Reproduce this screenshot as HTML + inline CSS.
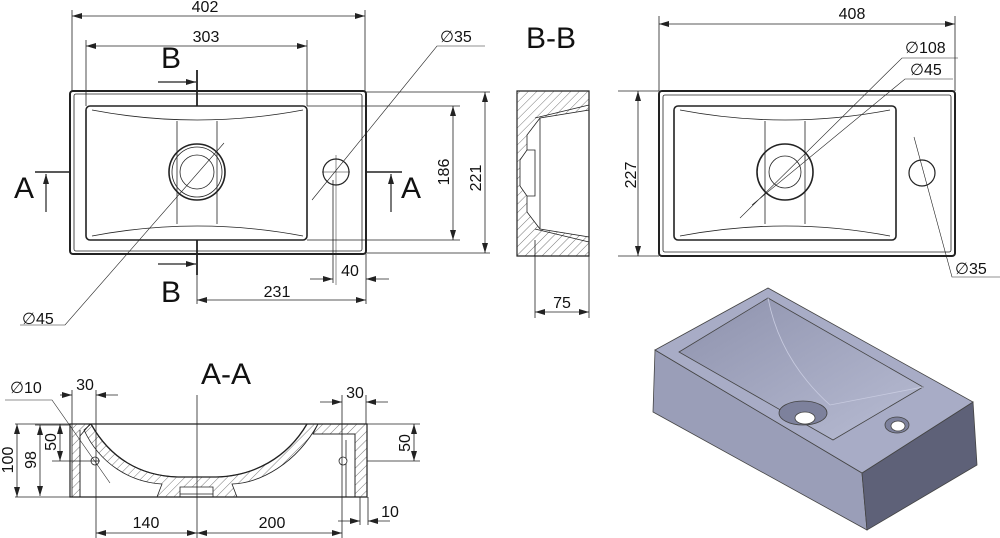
<!DOCTYPE html>
<html><head><meta charset="utf-8"><style>
html,body{margin:0;padding:0;background:#fff;}
svg{display:block;}
text{font-family:"Liberation Sans",sans-serif;fill:#111;}
</style></head><body>
<svg width="1000" height="538" viewBox="0 0 1000 538" xmlns="http://www.w3.org/2000/svg">
<defs>
<marker id="a" viewBox="0 0 10 6" refX="10" refY="3" markerWidth="10" markerHeight="6" orient="auto-start-reverse" markerUnits="userSpaceOnUse"><path d="M0,0 L10,3 L0,6 z" fill="#222"/></marker>
<pattern id="h" width="6" height="6" patternUnits="userSpaceOnUse" patternTransform="rotate(45)"><line x1="0" y1="0" x2="0" y2="6" stroke="#555" stroke-width="0.8"/></pattern>
<linearGradient id="bs" x1="0" y1="0" x2="1" y2="1"><stop offset="0" stop-color="#8e92ad"/><stop offset="1" stop-color="#b8bcd3"/></linearGradient>
</defs>
<g fill="none" stroke="#222" stroke-width="0.8">
<!-- ===== Top plan left ===== -->
<rect x="70" y="91" width="296" height="163" rx="3" stroke-width="2"/>
<rect x="74" y="94" width="288" height="157" rx="2"/>
<rect x="86" y="106" width="221" height="134" rx="4" stroke-width="1.6"/>
<path d="M92,110 Q197,130 303,110 M92,236 Q197,216 303,236"/>
<line x1="177" y1="121" x2="177" y2="224"/><line x1="217" y1="121" x2="217" y2="224"/>
<circle cx="197" cy="172" r="28" stroke-width="1.6"/><circle cx="197" cy="172" r="25"/><circle cx="197" cy="172" r="17"/>
<circle cx="336" cy="172" r="13" stroke-width="1.2"/>
<path d="M336,155 V285 M322,172 H350" stroke-width="0.5"/>
<path d="M72,10 V91 M365,10 V91 M86,40 V106 M307,40 V106"/>
<line x1="72" y1="16" x2="365" y2="16" marker-start="url(#a)" marker-end="url(#a)"/>
<line x1="86" y1="46" x2="307" y2="46" marker-start="url(#a)" marker-end="url(#a)"/>
<path d="M307,106 H460 M307,240 H460 M366,92 H490 M366,253 H490"/>
<line x1="453" y1="106" x2="453" y2="240" marker-start="url(#a)" marker-end="url(#a)"/>
<line x1="485" y1="92" x2="485" y2="253" marker-start="url(#a)" marker-end="url(#a)"/>
<path d="M333,180 V283 M366,254 V304 M197,254 V304"/>
<line x1="310" y1="279" x2="333" y2="279" marker-end="url(#a)"/><line x1="389" y1="279" x2="366" y2="279" marker-end="url(#a)"/>
<line x1="197" y1="300" x2="366" y2="300" marker-start="url(#a)" marker-end="url(#a)"/>
<path d="M197,70 V106 M197,240 V275" stroke-width="1.8"/>
<line x1="158" y1="82" x2="196" y2="82" marker-end="url(#a)" stroke-width="1.2"/>
<line x1="158" y1="264" x2="196" y2="264" marker-end="url(#a)" stroke-width="1.2"/>
<path d="M35,172 H70 M366,172 H402" stroke-width="1.6"/>
<line x1="46" y1="212" x2="46" y2="174" marker-end="url(#a)" stroke-width="1.2"/>
<line x1="391" y1="212" x2="391" y2="174" marker-end="url(#a)" stroke-width="1.2"/>
<path d="M312,200 L437,46 H485" stroke-width="0.6"/>
<path d="M224,143 L65,325 H20" stroke-width="0.6"/>
<!-- ===== B-B ===== -->
<path d="M517,91 H589 V256 H517 Z" stroke-width="1.2"/>
<path d="M517,91 H589 V110 L540,118 L527,135 L527,150 L520,160 V186 L527,196 L527,212 L540,229 L589,237 V256 H517 Z" fill="url(#h)"/>
<path d="M535,118 L589,105 M535,229 L589,242 M540,118 V229 M527,150 H535 V196 H527"/>
<path d="M535,240 V318 M589,256 V318"/>
<line x1="535" y1="312" x2="589" y2="312" marker-start="url(#a)" marker-end="url(#a)"/>
<!-- ===== Top plan right ===== -->
<rect x="659" y="91" width="296" height="165" rx="3" stroke-width="2"/>
<rect x="663" y="95" width="288" height="157" rx="2"/>
<rect x="674" y="106" width="222" height="134" rx="4" stroke-width="1.6"/>
<path d="M680,110 Q785,130 890,110 M680,236 Q785,216 890,236"/>
<line x1="765" y1="121" x2="765" y2="224"/><line x1="805" y1="121" x2="805" y2="224"/>
<circle cx="785" cy="172" r="28" stroke-width="1.6"/><circle cx="785" cy="172" r="16"/>
<circle cx="922" cy="173" r="13" stroke-width="1.2"/>
<path d="M659,16 V91 M955,16 V91 M618,91 H659 M618,256 H659"/>
<line x1="659" y1="24" x2="955" y2="24" marker-start="url(#a)" marker-end="url(#a)"/>
<line x1="638" y1="91" x2="638" y2="256" marker-start="url(#a)" marker-end="url(#a)"/>
<path d="M740,218 L902,58 H958 M752,205 L905,79 H953 M914,137 L952,277 H1000" stroke-width="0.6"/>
<!-- ===== A-A ===== -->
<path d="M70,424 H367 V497 H70 Z" stroke-width="1.2"/>
<!-- left wall -->
<path d="M72,424 H90 L80,436 V497 H72 Z" fill="url(#h)"/>
<!-- bowl shell -->
<path d="M91,424 C110,458 140,476 178,477 H216 C254,476 287,458 307,424 H318 C296,464 260,483 232,484 L237,497 H213 V487 H180 V497 H157 L162,484 C130,482 100,464 84,430 Z" fill="url(#h)"/>
<path d="M91,424 C110,458 140,476 178,477 H216 C254,476 287,458 307,424" stroke-width="1.3"/>
<!-- right ledge and wall -->
<path d="M318,424 H367 V497 H355 V434 H313 Z" fill="url(#h)"/>
<path d="M313,434 H355 V497 M346,440 V497"/>
<path d="M80,430 V497 M180,494 H213"/>
<circle cx="95" cy="461" r="4" fill="#fff"/><circle cx="343" cy="461" r="4" fill="#fff"/>
<path d="M15,424 H70 M15,497 H70 M35,425 H70 M52,461 H100 M367,424 H420 M367,461 H420"/>
<line x1="17" y1="424" x2="17" y2="497" marker-start="url(#a)" marker-end="url(#a)"/>
<line x1="40" y1="425" x2="40" y2="496" marker-start="url(#a)" marker-end="url(#a)"/>
<line x1="60" y1="424" x2="60" y2="461" marker-start="url(#a)" marker-end="url(#a)"/>
<line x1="414" y1="424" x2="414" y2="461" marker-start="url(#a)" marker-end="url(#a)"/>
<path d="M72,390 V424 M96,390 V538 M342,395 V538 M366,395 V424 M197,395 V538 M368,497 V525 M360,497 V525"/>
<line x1="60" y1="395" x2="72" y2="395" marker-end="url(#a)"/><line x1="118" y1="395" x2="96" y2="395" marker-end="url(#a)"/>
<line x1="320" y1="402" x2="342" y2="402" marker-end="url(#a)"/><line x1="388" y1="402" x2="366" y2="402" marker-end="url(#a)"/>
<line x1="96" y1="533" x2="197" y2="533" marker-start="url(#a)" marker-end="url(#a)"/>
<line x1="197" y1="533" x2="342" y2="533" marker-start="url(#a)" marker-end="url(#a)"/>
<line x1="338" y1="521" x2="360" y2="521" marker-end="url(#a)"/><line x1="390" y1="521" x2="368" y2="521" marker-end="url(#a)"/>
<path d="M5,400 H52 L110,483" stroke-width="0.6"/>
</g>
<!-- ===== Isometric ===== -->
<g stroke="#444" stroke-width="0.8">
<polygon points="655,350 653,412 867,530 862,473" fill="#9a9eb8"/>
<polygon points="862,473 867,530 977,465 973,402" fill="#5e6178"/>
<polygon points="655,350 768,288 973,402 862,473" fill="#a8acc6"/>
<polygon points="679,352 768,298 923,387 833,440" fill="url(#bs)"/>
<path d="M768,298 Q780,360 830,405 L923,387" fill="none" stroke="#c8cbe0"/>
<ellipse cx="803" cy="413" rx="24" ry="12" fill="#7d819c"/>
<ellipse cx="805" cy="418" rx="10" ry="6" fill="#fff"/>
<ellipse cx="897" cy="425" rx="12" ry="8" fill="#7d819c"/>
<ellipse cx="898" cy="426" rx="7" ry="5" fill="#fff"/>
</g>
<!-- ===== Text ===== -->
<g font-size="16">
<text x="205" y="12" text-anchor="middle">402</text>
<text x="206" y="42" text-anchor="middle">303</text>
<text x="440" y="42">∅35</text>
<text x="22" y="324">∅45</text>
<text x="350" y="276" text-anchor="middle">40</text>
<text x="277" y="297" text-anchor="middle">231</text>
<text transform="translate(449,172) rotate(-90)" text-anchor="middle">186</text>
<text transform="translate(481,178) rotate(-90)" text-anchor="middle">221</text>
<text x="562" y="308" text-anchor="middle">75</text>
<text x="852" y="19" text-anchor="middle">408</text>
<text transform="translate(636,175) rotate(-90)" text-anchor="middle">227</text>
<text x="905" y="53">∅108</text>
<text x="910" y="75">∅45</text>
<text x="955" y="274">∅35</text>
<text x="10" y="393">∅10</text>
<text x="85" y="390" text-anchor="middle">30</text>
<text x="355" y="398" text-anchor="middle">30</text>
<text transform="translate(13,460) rotate(-90)" text-anchor="middle">100</text>
<text transform="translate(36,460) rotate(-90)" text-anchor="middle">98</text>
<text transform="translate(56,442) rotate(-90)" text-anchor="middle">50</text>
<text transform="translate(410,443) rotate(-90)" text-anchor="middle">50</text>
<text x="146" y="528" text-anchor="middle">140</text>
<text x="272" y="528" text-anchor="middle">200</text>
<text x="390" y="517" text-anchor="middle">10</text>
</g>
<g font-size="30">
<text x="171" y="68" text-anchor="middle">B</text>
<text x="171" y="302" text-anchor="middle">B</text>
<text x="24" y="198" text-anchor="middle">A</text>
<text x="411" y="198" text-anchor="middle">A</text>
<text x="551" y="48" text-anchor="middle">B-B</text>
<text x="226" y="384" text-anchor="middle">A-A</text>
</g>
</svg>
</body></html>
